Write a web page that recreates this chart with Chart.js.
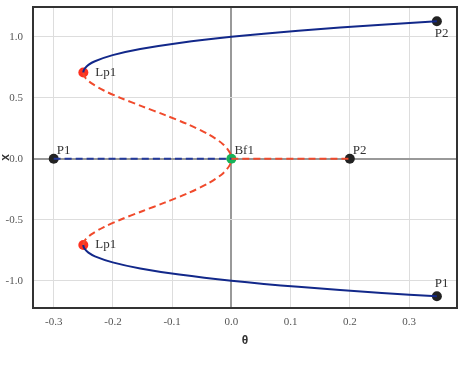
<!DOCTYPE html>
<html>
<head>
<meta charset="utf-8">
<script src="https://cdn.jsdelivr.net/npm/chart.js@4/dist/chart.umd.min.js"></script>
<style>
  body { margin: 0; background: #fff; }
  canvas { display: block; }
</style>
</head>
<body>
<canvas id="bif" width="459" height="370"></canvas>
<script>
// branch data (theta, x)
const upperStableTheta = [-0.25, -0.2497, -0.2477, -0.2414, -0.2304, -0.2005, -0.1539, -0.088, 0, 0.113, 0.2541, 0.347];
const upperStableX     = [0.707, 0.72, 0.74, 0.77, 0.8, 0.85, 0.9, 0.95, 1.0, 1.05, 1.1, 1.128];
const lowerStableTheta = [-0.25, -0.2497, -0.2477, -0.2414, -0.2304, -0.2005, -0.1539, -0.088, 0, 0.113, 0.2541, 0.347];
const lowerStableX     = [-0.707, -0.72, -0.74, -0.77, -0.8, -0.85, -0.9, -0.95, -1.0, -1.05, -1.1, -1.128];
const upperUnstTheta = [-0.25, -0.2494, -0.2459, -0.2366, -0.2153, -0.1875, -0.1507, -0.1128, -0.0723, -0.0384, -0.0142, -0.0025, 0];
const upperUnstX     = [0.707, 0.69, 0.66, 0.62, 0.56, 0.5, 0.43, 0.36, 0.28, 0.2, 0.12, 0.05, 0];
const lowerUnstTheta = [-0.25, -0.2494, -0.2459, -0.2366, -0.2153, -0.1875, -0.1507, -0.1128, -0.0723, -0.0384, -0.0142, -0.0025, 0];
const lowerUnstX     = [-0.707, -0.69, -0.66, -0.62, -0.56, -0.5, -0.43, -0.36, -0.28, -0.2, -0.12, -0.05, 0];
const trivStableTheta = [-0.3, 0];
const trivStableX     = [0, 0];
const trivUnstTheta = [0, 0.2];
const trivUnstX     = [0, 0];

// special points
const markNames = ['P2', 'P1', 'Lp1', 'Lp1', 'P1', 'Bf1', 'P2'];
const markTheta = [0.347, 0.347, -0.25, -0.25, -0.3, 0, 0.2];
const markX     = [1.128, -1.128, 0.707, -0.707, 0, 0, 0];
const markKind  = ['end', 'end', 'fold', 'fold', 'end', 'branch', 'end'];

const xTicks = [-0.3, -0.2, -0.1, 0.0, 0.1, 0.2, 0.3];
const yTicks = [-1.0, -0.5, 0.0, 0.5, 1.0];

const kindColor = { end: '#222222', fold: '#ff3020', branch: '#16b35a' };
const labelPlace = ['below', 'above', 'right', 'right', 'aboveRight', 'aboveRight', 'aboveRight'];

const pairs = (t, v) => t.map((a, i) => ({ x: a, y: v[i] }));

function branch(t, v, color, dashed) {
  return {
    data: pairs(t, v),
    showLine: true,
    borderColor: color,
    borderWidth: 2,
    borderDash: dashed ? [7, 4] : [],
    pointRadius: 0,
    tension: 0.3,
    fill: false
  };
}

const frame = {
  id: 'frame',
  beforeDatasetsDraw(chart) {
    const { ctx, chartArea: a } = chart;
    ctx.save();
    ctx.strokeStyle = '#333';
    ctx.lineWidth = 2;
    ctx.strokeRect(a.left, a.top, a.right - a.left, a.bottom - a.top);
    ctx.restore();
  }
};

const pointLabels = {
  id: 'pointLabels',
  afterDatasetsDraw(chart) {
    const { ctx, scales } = chart;
    ctx.save();
    ctx.font = '13px "Liberation Serif", serif';
    ctx.fillStyle = '#333';
    markNames.forEach((name, i) => {
      const px = scales.x.getPixelForValue(markTheta[i]);
      const py = scales.y.getPixelForValue(markX[i]);
      const p = labelPlace[i];
      if (p === 'below') {
        ctx.textBaseline = 'top';
        ctx.fillText(name, px - 2, py + 6);
      } else if (p === 'above') {
        ctx.textBaseline = 'bottom';
        ctx.fillText(name, px - 2, py - 6);
      } else if (p === 'right') {
        ctx.textBaseline = 'middle';
        ctx.fillText(name, px + 12, py);
      } else {
        ctx.textBaseline = 'bottom';
        ctx.fillText(name, px + 3, py - 2);
      }
    });
    ctx.restore();
  }
};

const gridColor = c => c.tick && c.tick.value === 0 ? '#999999' : '#dddddd';
const gridWidth = c => c.tick && c.tick.value === 0 ? 2 : 1;
const tickFont = { family: '"Liberation Serif", serif', size: 11 };
const noPad = s => { s.paddingTop = 0; s.paddingBottom = 0; s.paddingLeft = 0; s.paddingRight = 0; };

new Chart(document.getElementById('bif'), {
  type: 'scatter',
  data: {
    datasets: [
      branch(trivStableTheta, trivStableX, '#23399a', true),
      branch(trivUnstTheta, trivUnstX, '#f04a2c', true),
      branch(upperUnstTheta, upperUnstX, '#f04a2c', true),
      branch(lowerUnstTheta, lowerUnstX, '#f04a2c', true),
      branch(upperStableTheta, upperStableX, '#12288a', false),
      branch(lowerStableTheta, lowerStableX, '#12288a', false),
      {
        data: pairs(markTheta, markX),
        showLine: false,
        pointRadius: 5,
        pointHoverRadius: 5,
        pointBackgroundColor: markKind.map(k => kindColor[k]),
        pointBorderColor: markKind.map(k => kindColor[k]),
        pointBorderWidth: 0
      }
    ]
  },
  options: {
    responsive: false,
    animation: false,
    devicePixelRatio: 1,
    layout: { autoPadding: false, padding: { top: 7, right: 2, bottom: 22, left: 0 } },
    plugins: { legend: { display: false }, tooltip: { enabled: false } },
    scales: {
      x: {
        type: 'linear',
        min: -0.335,
        max: 0.381,
        afterBuildTicks: s => { s.ticks = xTicks.map(v => ({ value: v })); },
        afterFit: s => { s.height = 40; noPad(s); },
        ticks: { callback: v => v.toFixed(1), font: tickFont, color: '#555', padding: 8 },
        grid: { color: gridColor, lineWidth: gridWidth, drawTicks: false },
        border: { display: false },
        title: { display: true, text: 'θ', color: '#333', font: { size: 12, weight: 'bold' }, padding: 0 }
      },
      y: {
        type: 'linear',
        min: -1.224,
        max: 1.245,
        afterBuildTicks: s => { s.ticks = yTicks.map(v => ({ value: v })); },
        afterFit: s => { s.width = 33; noPad(s); },
        ticks: { callback: v => v.toFixed(1), font: tickFont, color: '#555', padding: 10 },
        grid: { color: gridColor, lineWidth: gridWidth, drawTicks: false },
        border: { display: false },
        title: { display: true, text: 'x', color: '#333', font: { size: 12, weight: 'bold' }, padding: { top: -2, bottom: 0 } }
      }
    }
  },
  plugins: [frame, pointLabels]
});
</script>
</body>
</html>
